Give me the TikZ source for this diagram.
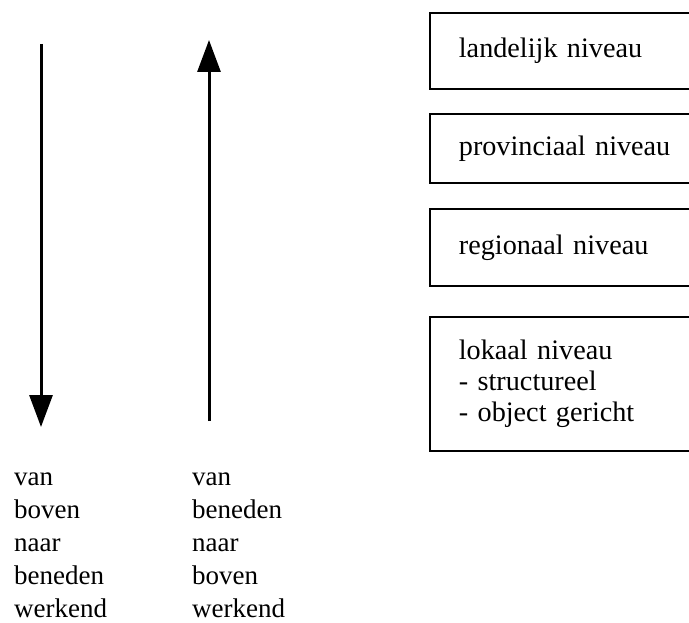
\documentclass[tikz,border=0pt]{standalone}
\usepackage{fontspec}
\setmainfont{Liberation Serif}
\usetikzlibrary{arrows.meta}
\tikzset{
  lbl/.style={inner sep=0pt, align=left, font=\fontsize{27}{32.8}\selectfont},
  levelbox/.style={draw, line width=1.8pt, anchor=north west, inner xsep=29pt, inner ysep=0pt,
    text width=220pt, align=left, font=\fontsize{28.2}{31}\selectfont},
  flow/.style={line width=3pt, -{Triangle[length=32pt,width=23pt]}}
}
\begin{document}
\begin{tikzpicture}[x=1pt,y=-1pt]
\useasboundingbox (0,0) rectangle (689,623);
% arrows
\coordinate (dtop) at (41,44);
\coordinate (dbot) at (41,427);
\coordinate (ubot) at (209,421);
\coordinate (utop) at (209,40);
\draw[flow] (dtop) -- (dbot);
\draw[flow] (ubot) -- (utop);
% labels below
\node[lbl, anchor=base west] (ldown) at (14,617) {van\\boven\\naar\\beneden\\werkend};
\node[lbl, anchor=base west] (lup) at (192,617) {van\\beneden\\naar\\boven\\werkend};
% level boxes
\node[levelbox, minimum height=76pt] (b1) at (429,12) {landelijk niveau};
\node[levelbox, minimum height=69pt] (b2) at (429,113) {provinciaal niveau};
\node[levelbox, minimum height=77pt] (b3) at (429,208) {regionaal niveau};
\node[levelbox, minimum height=134pt] (b4) at (429,316) {lokaal niveau\\- structureel\\- object gericht};
\end{tikzpicture}
\end{document}
